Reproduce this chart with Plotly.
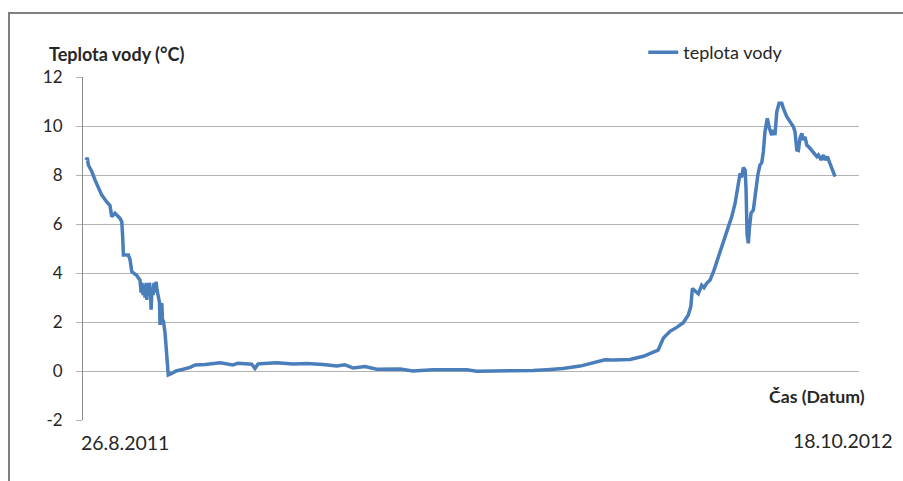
import pandas as pd
import plotly.graph_objects as go

start_date = "2011-08-26"
end_date = "2012-10-18"
date_labels = ["26.8.2011", "18.10.2012"]

# days since 26.8.2011
day = [0, 0.7, 1.3, 3.2, 5.0, 6.9, 8.8, 11.6, 13.4, 14.4, 16.2, 19.0, 20.0, 20.5, 20.9,
       23.7, 24.6, 25.6, 28.4, 30.2, 30.8, 31.3, 31.9, 32.5, 33.0, 33.6, 34.0, 34.4, 35.0,
       35.5, 36.1, 36.4, 36.9, 37.5, 38.0, 38.6, 39.2, 39.7, 40.5, 41.1, 41.4, 42.0, 42.4,
       42.8, 43.2, 44.2, 46.0, 47.9, 50.4, 54.4, 58.2, 61.0, 66.6, 75.0, 82.2, 85.0, 87.8,
       92.7, 94.5, 96.2, 97.3, 106.7, 115.8, 123.5, 132.6, 140.2, 144.9, 149.4, 156.1,
       162.6, 175.7, 182.9, 194.1, 205.3, 213.0, 218.6, 229.8, 238.9, 250.1, 257.7, 266.8,
       276.4, 283.6, 290.3, 294.8, 304.3, 311.8, 317.4, 320.0, 323.0, 326.7, 330.4, 334.1,
       336.9, 338.3, 339.2, 340.7, 342.5, 344.4, 345.7, 347.2, 349.1, 351.3, 353.7, 356.5,
       358.8, 361.2, 363.1, 364.9, 365.9, 366.7, 367.7, 368.7, 369.2, 369.8, 370.5, 371.1,
       372.0, 373.3, 374.6, 375.8, 377.0, 378.0, 378.9, 379.8, 381.1, 382.3, 383.6, 384.5,
       385.4, 386.4, 387.7, 389.2, 390.1, 392.0, 393.8, 395.7, 396.6, 397.6, 398.5, 399.4,
       400.4, 401.3, 402.2, 403.2, 405.0, 406.9, 408.8, 409.7, 411.2, 412.5, 413.4, 414.7,
       415.8, 417.2, 418.0, 419.0]

teplota = [8.61, 8.70, 8.41, 8.14, 7.80, 7.46, 7.18, 6.90, 6.75, 6.30, 6.44, 6.23, 6.09, 5.48, 4.73,
           4.73, 4.55, 4.05, 3.90, 3.70, 3.20, 3.60, 3.10, 3.50, 3.00, 3.60, 2.90, 3.50, 3.10,
           3.60, 3.20, 2.50, 3.40, 3.10, 3.60, 3.20, 3.65, 3.30, 3.03, 2.80, 1.88, 2.70, 2.77,
           2.00, 2.08, 1.55, -0.16, -0.10, 0.00, 0.07, 0.15, 0.25, 0.27, 0.34, 0.25, 0.32, 0.30,
           0.28, 0.10, 0.28, 0.30, 0.34, 0.29, 0.31, 0.27, 0.20, 0.25, 0.12, 0.18,
           0.07, 0.08, 0.00, 0.05, 0.03, 0.05, -0.01, -0.01, 0.02, 0.02, 0.05, 0.10,
           0.20, 0.35, 0.46, 0.45, 0.47, 0.60, 0.75, 0.85, 1.35, 1.62, 1.78, 1.97,
           2.29, 2.63, 3.37, 3.25, 3.15, 3.50, 3.40, 3.58, 3.71, 4.12, 4.67, 5.21,
           5.76, 6.30, 6.85, 7.73, 8.07, 7.90, 8.30, 8.20, 7.46, 5.55, 5.21, 5.82,
           6.44, 6.57, 7.32, 8.00, 8.41, 8.50, 8.95, 9.77, 10.31, 9.90, 9.63, 9.84,
           9.63, 10.58, 10.93, 10.93, 10.72, 10.38, 10.18, 9.97, 9.77, 9.02, 9.00, 9.50,
           9.70, 9.43, 9.56, 9.22, 9.09, 8.89, 8.75, 8.82, 8.61, 8.82, 8.61, 8.75,
           8.54, 8.34, 8.14, 7.93]

y_ticks = [-2, 0, 2, 4, 6, 8, 10, 12]
y_tick_text = ["-2", "0", "2", "4", "6", "8", "10", "12"]

t0 = pd.Timestamp(start_date)
dates = [t0 + pd.Timedelta(days=d) for d in day]

FONT = "Lato, 'Open Sans', sans-serif"
TXT = "#262626"

fig = go.Figure()
fig.add_trace(go.Scatter(
    x=dates, y=teplota, mode="lines", name="teplota vody",
    line=dict(color="#4a7ebb", width=3.5),
))

x0 = t0 - pd.Timedelta(days=1.7)
x1 = t0 + pd.Timedelta(days=432.4)

fig.update_layout(
    width=903, height=481,
    margin=dict(l=83, r=44, t=77, b=61, autoexpand=False),
    paper_bgcolor="white", plot_bgcolor="white",
    font=dict(family=FONT, color=TXT, size=16),
    showlegend=True,
    legend=dict(x=0.722, y=1.071, xanchor="left", yanchor="middle",
                font=dict(size=18, color=TXT), bgcolor="rgba(0,0,0,0)"),
    xaxis=dict(type="date", range=[x0, x1], showgrid=False, showticklabels=False,
               zeroline=False, showline=False, ticks=""),
    yaxis=dict(range=[-2, 12], tickvals=y_ticks, ticktext=y_tick_text, showgrid=True,
               gridcolor="#b3b3b3", gridwidth=1, zeroline=False, showline=True,
               linecolor="#8c8c8c", linewidth=1, ticks="outside", ticklen=6,
               tickcolor="#b3b3b3", tickfont=dict(size=17, color=TXT), ticklabelstandoff=10),
)

fig.add_shape(type="rect", xref="paper", yref="paper",
              x0=(9 - 83) / 776, x1=(906 - 83) / 776,
              y0=(420 - 485) / 343, y1=(420 - 13) / 343,
              line=dict(color="#7f7f7f", width=2), layer="below")

fig.add_annotation(text="<b>Teplota vody (°C)</b>", xref="paper", yref="paper",
                   x=(47 - 83) / 776, y=(420 - 54) / 343, xanchor="left", yanchor="middle",
                   showarrow=False, font=dict(size=18, color=TXT))
fig.add_annotation(text="<b>Čas (Datum)</b>", xref="paper", yref="paper",
                   x=(867 - 83) / 776, y=(420 - 396) / 343, xanchor="right", yanchor="middle",
                   showarrow=False, font=dict(size=17.7, color=TXT))
fig.add_annotation(text=date_labels[0], xref="paper", yref="paper",
                   x=(79 - 83) / 776, y=(420 - 442) / 343, xanchor="left", yanchor="middle",
                   showarrow=False, font=dict(size=19.5, color=TXT))
fig.add_annotation(text=date_labels[1], xref="paper", yref="paper",
                   x=(895 - 83) / 776, y=(420 - 440) / 343, xanchor="right", yanchor="middle",
                   showarrow=False, font=dict(size=19.5, color=TXT))

fig.write_html("out.html", config={"displayModeBar": False},
               post_script="document.body.style.margin='0';document.body.style.overflow='hidden';")
